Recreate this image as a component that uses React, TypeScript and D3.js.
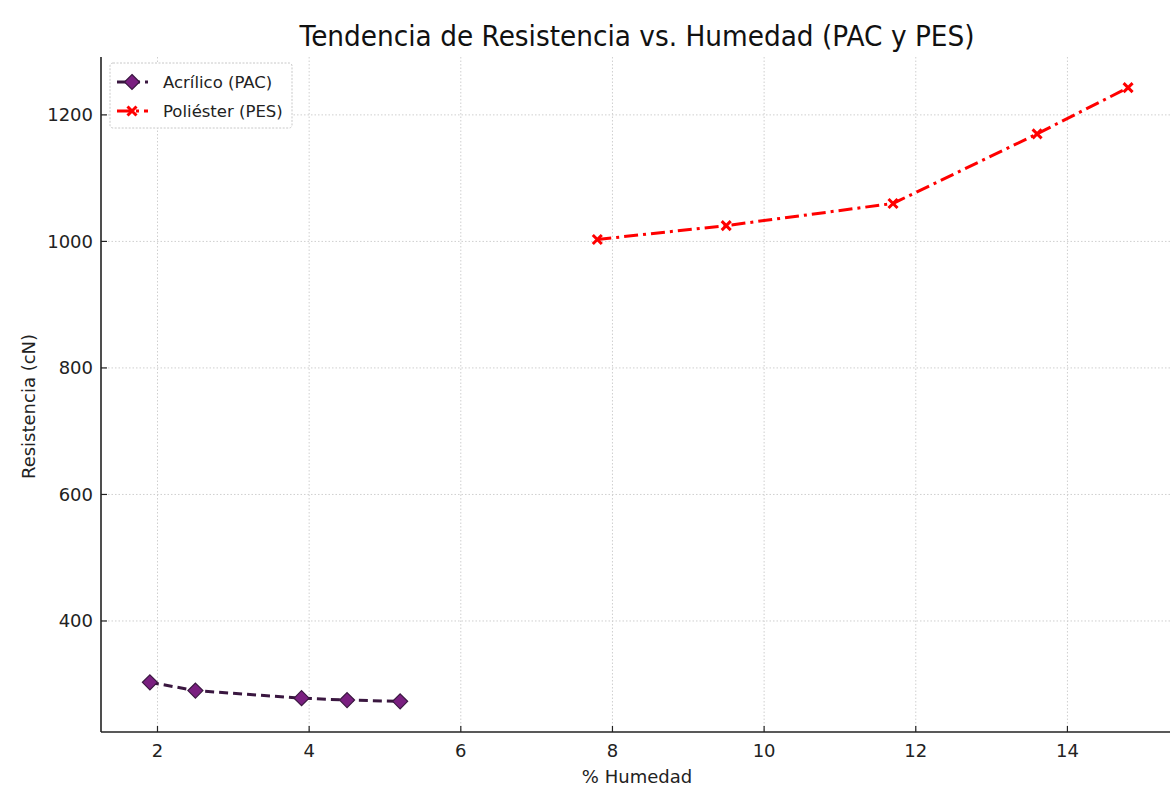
import * as d3 from 'd3'

// Acrílico (PAC)
const humedadPAC = [1.9, 2.5, 3.9, 4.5, 5.2]
const resistenciaPAC = [303, 290, 278, 275, 273]

// Poliéster (PES)
const humedadPES = [7.8, 9.5, 11.7, 13.6, 14.8]
const resistenciaPES = [1003, 1025, 1060, 1170, 1243]

const xTicks = [2, 4, 6, 8, 10, 12, 14]
const yTicks = [400, 600, 800, 1000, 1200]

const seriesNames = ['Acrílico (PAC)', 'Poliéster (PES)']

const W = 1170
const H = 789
const plot = { left: 101, right: 1177, top: 57, bottom: 732 }
const FONT = 'DejaVu Sans, sans-serif'

const PAC_LINE = '#3a1740'
const PAC_FILL = '#7a1f80'
const PES = '#ff0000'

// matplotlib style 5% padding
function padded(vals: number[]): [number, number] {
  const [lo, hi] = d3.extent(vals) as [number, number]
  const m = (hi - lo) * 0.05
  return [lo - m, hi + m]
}

function Diamond({ x, y, r = 7.5 }: { x: number; y: number; r?: number }) {
  return (
    <path
      d={`M${x},${y - r}L${x + r},${y}L${x},${y + r}L${x - r},${y}Z`}
      fill={PAC_FILL}
      stroke={PAC_LINE}
      strokeWidth={1.2}
    />
  )
}

function Cross({ x, y, r = 4.5 }: { x: number; y: number; r?: number }) {
  return (
    <path
      d={`M${x - r},${y - r}L${x + r},${y + r}M${x - r},${y + r}L${x + r},${y - r}`}
      stroke={PES}
      strokeWidth={3}
      fill="none"
    />
  )
}

export default function App() {
  const x = d3.scaleLinear()
    .domain(padded([...humedadPAC, ...humedadPES]))
    .range([plot.left, plot.right])
  const y = d3.scaleLinear()
    .domain(padded([...resistenciaPAC, ...resistenciaPES]))
    .range([plot.bottom, plot.top])

  const pac = humedadPAC.map((h, i) => [h, resistenciaPAC[i]] as [number, number])
  const pes = humedadPES.map((h, i) => [h, resistenciaPES[i]] as [number, number])

  const line = d3.line<[number, number]>()
    .x(d => x(d[0]))
    .y(d => y(d[1]))

  const legendX = 110
  const legendY = 63

  return (
    <svg
      width={W}
      height={H}
      style={{ position: 'absolute', left: 0, top: 0, background: '#fff' }}
      fontFamily={FONT}
    >
      <rect x={0} y={0} width={W} height={H} fill="#fff" />

      {/* Title */}
      <text
        x={637}
        y={46}
        textAnchor="middle"
        fontSize={28}
        fill="#111"
        textLength={675}
        lengthAdjust="spacingAndGlyphs"
      >
        Tendencia de Resistencia vs. Humedad (PAC y PES)
      </text>

      {/* Grid */}
      <g stroke="#cfcfcf" strokeWidth={1} strokeDasharray="1.5,2">
        {xTicks.map(t => (
          <line key={'gx' + t} x1={x(t)} x2={x(t)} y1={plot.top} y2={plot.bottom} />
        ))}
        {yTicks.map(t => (
          <line key={'gy' + t} x1={plot.left} x2={plot.right} y1={y(t)} y2={y(t)} />
        ))}
      </g>

      {/* Series PAC */}
      <path
        d={line(pac) ?? ''}
        fill="none"
        stroke={PAC_LINE}
        strokeWidth={3}
        strokeDasharray="9,5"
      />
      {pac.map((d, i) => <Diamond key={'pac' + i} x={x(d[0])} y={y(d[1])} />)}

      {/* Series PES */}
      <path
        d={line(pes) ?? ''}
        fill="none"
        stroke={PES}
        strokeWidth={3}
        strokeDasharray="14,5,3,5"
      />
      {pes.map((d, i) => <Cross key={'pes' + i} x={x(d[0])} y={y(d[1])} />)}

      {/* Spines */}
      <line x1={plot.left} x2={plot.left} y1={plot.top} y2={plot.bottom} stroke="#222" strokeWidth={1.6} />
      <line x1={plot.left} x2={plot.right} y1={plot.bottom} y2={plot.bottom} stroke="#222" strokeWidth={1.6} />

      {/* X ticks */}
      {xTicks.map(t => (
        <g key={'xt' + t}>
          <line x1={x(t)} x2={x(t)} y1={plot.bottom} y2={plot.bottom - 6} stroke="#222" strokeWidth={1.2} />
          <text x={x(t)} y={plot.bottom + 25} textAnchor="middle" fontSize={18} fill="#222">{t}</text>
        </g>
      ))}

      {/* Y ticks */}
      {yTicks.map(t => (
        <g key={'yt' + t}>
          <line x1={plot.left} x2={plot.left + 6} y1={y(t)} y2={y(t)} stroke="#222" strokeWidth={1.2} />
          <text x={plot.left - 8} y={y(t) + 6.5} textAnchor="end" fontSize={18} fill="#222">{t}</text>
        </g>
      ))}

      {/* Axis labels */}
      <text x={637} y={783} textAnchor="middle" fontSize={18} fill="#222">% Humedad</text>
      <text
        transform={`translate(35,${(plot.top + plot.bottom) / 2 + 12}) rotate(-90)`}
        textAnchor="middle"
        fontSize={18}
        fill="#222"
      >
        Resistencia (cN)
      </text>

      {/* Legend */}
      <g transform={`translate(${legendX},${legendY})`}>
        <rect x={0} y={0} width={182} height={65} rx={3} fill="#fff" stroke="#c8c8c8" strokeWidth={1} strokeDasharray="2,1.5" />
        <line x1={7} x2={38} y1={19} y2={19} stroke={PAC_LINE} strokeWidth={3} strokeDasharray="9,5" />
        <Diamond x={22} y={19} />
        <text x={53} y={25} fontSize={16.5} fill="#222">{seriesNames[0]}</text>
        <line x1={7} x2={38} y1={48} y2={48} stroke={PES} strokeWidth={3} strokeDasharray="14,5,3,5" />
        <Cross x={22} y={48} />
        <text x={53} y={54} fontSize={16.5} fill="#222">{seriesNames[1]}</text>
      </g>
    </svg>
  )
}
